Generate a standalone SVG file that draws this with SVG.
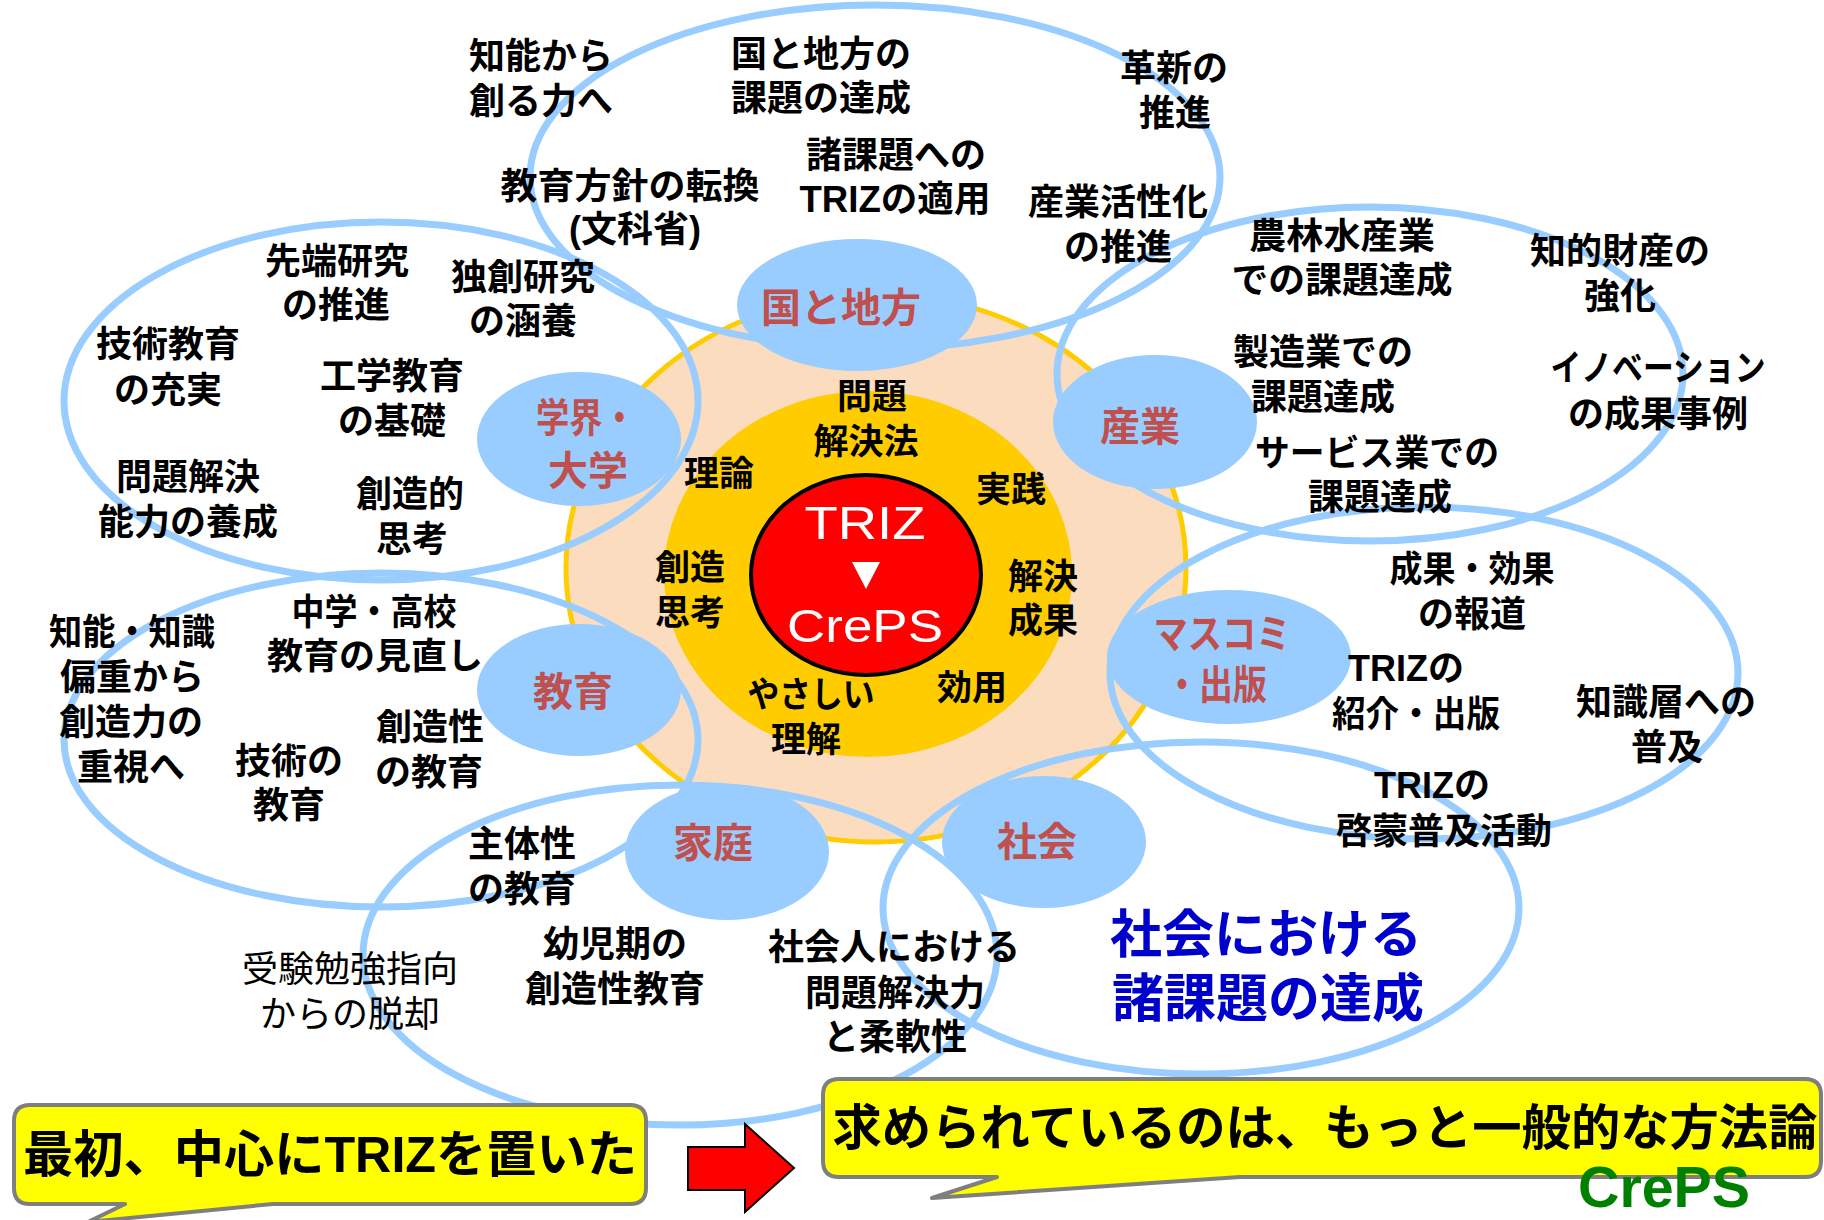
<svg xmlns="http://www.w3.org/2000/svg" width="1824" height="1220" viewBox="0 0 1824 1220">
<style>
.t{font-family:"Liberation Sans","Noto Sans CJK JP",sans-serif;font-weight:bold;font-size:36px;fill:#000;text-anchor:middle}
.c{font-size:35px}
.n{font-size:40px;fill:#C0504D}
.reg{font-weight:normal}
.blue{font-size:52px;fill:#0000CC}
.big{font-size:50px}
.ring{fill:none;stroke:#99CCFF;stroke-width:7}
.node{fill:#99CCFF}
.callout{fill:#FFFF00;stroke:#7F7F7F;stroke-width:4;stroke-linejoin:round}
.w{font-family:"Liberation Sans","DejaVu Sans",sans-serif;font-size:46px;fill:#FFFFFF;text-anchor:middle}
.g{font-family:"Liberation Sans",sans-serif;font-weight:bold;font-size:58px;fill:#008000;text-anchor:middle}
</style>
<rect width="1824" height="1220" fill="#FFFFFF"/>

<g id="core">
  <ellipse cx="876" cy="568" rx="310" ry="274" fill="#FCDCBE" stroke="#FFCC00" stroke-width="5"/>
  <ellipse cx="868" cy="574" rx="204" ry="183" fill="#FFCC00"/>
  <ellipse cx="866" cy="575" rx="115" ry="100" fill="#FF0000" stroke="#000" stroke-width="4"/>
  <text class="w" x="865" y="539" textLength="121" lengthAdjust="spacingAndGlyphs">TRIZ</text>
  <polygon points="852,562 880,562 866,589" fill="#FFFFFF"/>
  <text class="w" x="865" y="642" textLength="156" lengthAdjust="spacingAndGlyphs">CrePS</text>
  <text class="t c" x="872" y="409">問題</text>
  <text class="t c" x="866" y="454">解決法</text>
  <text class="t c" x="719" y="486">理論</text>
  <text class="t c" x="1011" y="502">実践</text>
  <text class="t c" x="690" y="580">創造</text>
  <text class="t c" x="690" y="625">思考</text>
  <text class="t c" x="1043" y="589">解決</text>
  <text class="t c" x="1043" y="633">成果</text>
  <text class="t c" x="811" y="707" textLength="127" lengthAdjust="spacingAndGlyphs">やさしい</text>
  <text class="t c" x="806" y="752">理解</text>
  <text class="t c" x="972" y="700">効用</text>
</g>

<g id="clusters">
  <ellipse class="ring" cx="875" cy="177" rx="345" ry="172"/>
  <ellipse class="ring" cx="381" cy="401" rx="317" ry="179"/>
  <ellipse class="ring" cx="381" cy="740" rx="317" ry="167"/>
  <ellipse class="ring" cx="680" cy="955" rx="317" ry="170"/>
  <ellipse class="ring" cx="1201" cy="908" rx="318" ry="166"/>
  <ellipse class="ring" cx="1424" cy="673" rx="314" ry="166"/>
  <ellipse class="ring" cx="1370" cy="374" rx="313" ry="167"/>
</g>

<g id="node-kuni">
  <ellipse class="node" cx="857" cy="305" rx="120" ry="66"/>
  <text class="t n" x="841" y="322">国と地方</text>
</g>
<g id="node-gakkai">
  <ellipse class="node" cx="579" cy="439" rx="102" ry="67"/>
  <text class="t n" x="586" y="432" textLength="100" lengthAdjust="spacingAndGlyphs">学界・</text>
  <text class="t n" x="588" y="485">大学</text>
</g>
<g id="node-sangyo">
  <ellipse class="node" cx="1155" cy="422" rx="102" ry="67"/>
  <text class="t n" x="1140" y="441">産業</text>
</g>
<g id="node-masukomi">
  <ellipse class="node" cx="1229" cy="657" rx="122" ry="67"/>
  <text class="t n" x="1222" y="648" textLength="137" lengthAdjust="spacingAndGlyphs">マスコミ</text>
  <text class="t n" x="1216" y="699" textLength="102" lengthAdjust="spacingAndGlyphs">・出版</text>
</g>
<g id="node-kyoiku">
  <ellipse class="node" cx="579" cy="690" rx="102" ry="66"/>
  <text class="t n" x="573" y="706">教育</text>
</g>
<g id="node-katei">
  <ellipse class="node" cx="727" cy="852" rx="102" ry="68"/>
  <text class="t n" x="713" y="857">家庭</text>
</g>
<g id="node-shakai">
  <ellipse class="node" cx="1044" cy="842" rx="102" ry="66"/>
  <text class="t n" x="1037" y="856">社会</text>
</g>

<g id="labels">
  <text class="t" x="541" y="69">知能から</text>
  <text class="t" x="541" y="114">創る力へ</text>
  <text class="t" x="821" y="67">国と地方の</text>
  <text class="t" x="821" y="111">課題の達成</text>
  <text class="t" x="1174" y="81">革新の</text>
  <text class="t" x="1175" y="126">推進</text>
  <text class="t" x="896" y="168">諸課題への</text>
  <text class="t" x="895" y="212" textLength="191" lengthAdjust="spacingAndGlyphs">TRIZの適用</text>
  <text class="t" x="630" y="199" textLength="259" lengthAdjust="spacingAndGlyphs">教育方針の転換</text>
  <text class="t" x="635" y="242">(文科省)</text>
  <text class="t" x="1118" y="215">産業活性化</text>
  <text class="t" x="1118" y="260">の推進</text>
  <text class="t" x="1342" y="249" textLength="186" lengthAdjust="spacingAndGlyphs">農林水産業</text>
  <text class="t" x="1342" y="293" textLength="221" lengthAdjust="spacingAndGlyphs">での課題達成</text>
  <text class="t" x="1620" y="264">知的財産の</text>
  <text class="t" x="1620" y="309">強化</text>
  <text class="t" x="337" y="274">先端研究</text>
  <text class="t" x="336" y="318">の推進</text>
  <text class="t" x="523" y="290">独創研究</text>
  <text class="t" x="523" y="334">の涵養</text>
  <text class="t" x="168" y="357">技術教育</text>
  <text class="t" x="168" y="403">の充実</text>
  <text class="t" x="392" y="389">工学教育</text>
  <text class="t" x="392" y="434">の基礎</text>
  <text class="t" x="1323" y="365">製造業での</text>
  <text class="t" x="1323" y="410">課題達成</text>
  <text class="t" x="1658" y="381" textLength="215" lengthAdjust="spacingAndGlyphs">イノベーション</text>
  <text class="t" x="1658" y="427">の成果事例</text>
  <text class="t" x="1377" y="466" textLength="244" lengthAdjust="spacingAndGlyphs">サービス業での</text>
  <text class="t" x="1380" y="510">課題達成</text>
  <text class="t" x="188" y="490">問題解決</text>
  <text class="t" x="188" y="535">能力の養成</text>
  <text class="t" x="410" y="507">創造的</text>
  <text class="t" x="412" y="552">思考</text>
  <text class="t" x="1472" y="582" textLength="165" lengthAdjust="spacingAndGlyphs">成果・効果</text>
  <text class="t" x="1472" y="627">の報道</text>
  <text class="t" x="374" y="625" textLength="165" lengthAdjust="spacingAndGlyphs">中学・高校</text>
  <text class="t" x="375" y="669">教育の見直し</text>
  <text class="t" x="132" y="645" textLength="166" lengthAdjust="spacingAndGlyphs">知能・知識</text>
  <text class="t" x="132" y="690">偏重から</text>
  <text class="t" x="131" y="735">創造力の</text>
  <text class="t" x="131" y="780">重視へ</text>
  <text class="t" x="1406" y="681">TRIZの</text>
  <text class="t" x="1416" y="727" textLength="168" lengthAdjust="spacingAndGlyphs">紹介・出版</text>
  <text class="t" x="1666" y="715">知識層への</text>
  <text class="t" x="1667" y="760">普及</text>
  <text class="t" x="430" y="740">創造性</text>
  <text class="t" x="429" y="785">の教育</text>
  <text class="t" x="289" y="774">技術の</text>
  <text class="t" x="289" y="818">教育</text>
  <text class="t" x="1432" y="798">TRIZの</text>
  <text class="t" x="1444" y="844">啓蒙普及活動</text>
  <text class="t" x="522" y="857">主体性</text>
  <text class="t" x="522" y="902">の教育</text>
  <text class="t reg" x="350" y="982">受験勉強指向</text>
  <text class="t reg" x="350" y="1027">からの脱却</text>
  <text class="t" x="615" y="957">幼児期の</text>
  <text class="t" x="615" y="1002">創造性教育</text>
  <text class="t" x="894" y="960">社会人における</text>
  <text class="t" x="895" y="1006">問題解決力</text>
  <text class="t" x="895" y="1050">と柔軟性</text>
  <text class="t blue" x="1266" y="953">社会における</text>
  <text class="t blue" x="1268" y="1017">諸課題の達成</text>
</g>

<g id="callout-left">
  <path class="callout" d="M30,1105 H630 Q646,1105 646,1121 V1188 Q646,1204 630,1204 H273 L88,1222 L125,1204 H30 Q14,1204 14,1188 V1121 Q14,1105 30,1105 Z"/>
  <text class="t big" x="330" y="1172" textLength="614" lengthAdjust="spacingAndGlyphs">最初、中心にTRIZを置いた</text>
</g>

<g id="connectors">
  <polygon points="688,1147 745,1147 745,1124 794,1168 745,1212 745,1190 688,1190" fill="#FF0000" stroke="#000" stroke-width="2" stroke-linejoin="miter"/>
</g>

<g id="callout-right">
  <path class="callout" d="M839,1079 H1805 Q1821,1079 1821,1095 V1161 Q1821,1177 1805,1177 H1240 L932,1198 L997,1177 H839 Q823,1177 823,1161 V1095 Q823,1079 839,1079 Z"/>
  <text class="t" x="1325" y="1145" style="font-size:49px" textLength="985" lengthAdjust="spacingAndGlyphs">求められているのは、もっと一般的な方法論</text>
  <text class="g" x="1664" y="1207" textLength="172" lengthAdjust="spacingAndGlyphs">CrePS</text>
</g>
</svg>
